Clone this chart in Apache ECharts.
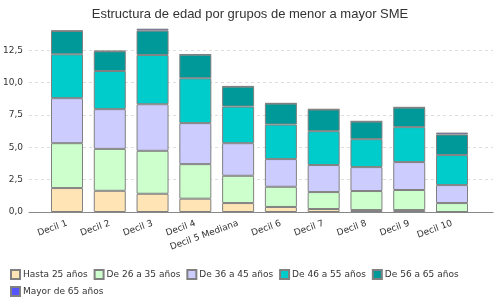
<!DOCTYPE html>
<html>
<head>
<meta charset="utf-8">
<script src="https://cdn.jsdelivr.net/npm/echarts@6/dist/echarts.min.js"></script>
<style>
  html, body { margin: 0; padding: 0; background: #fff; }
  #chart { width: 500px; height: 300px; }
</style>
</head>
<body>
<div id="chart"></div>
<script>
const categories = ['Decil 1', 'Decil 2', 'Decil 3', 'Decil 4', 'Decil 5 Mediana', 'Decil 6', 'Decil 7', 'Decil 8', 'Decil 9', 'Decil 10']
const seriesNames = ['Hasta 25 años', 'De 26 a 35 años', 'De 36 a 45 años', 'De 46 a 55 años', 'De 56 a 65 años', 'Mayor de 65 años']
const hasta25 = [1.85, 1.64, 1.41, 1.03, 0.69, 0.39, 0.23, 0.15, 0.15, 0.0]
const de26a35 = [3.47, 3.24, 3.32, 2.67, 2.11, 1.56, 1.31, 1.47, 1.55, 0.69]
const de36a45 = [3.48, 3.07, 3.60, 3.17, 2.52, 2.14, 2.09, 1.85, 2.16, 1.39]
const de46a55 = [3.39, 2.95, 3.81, 3.47, 2.83, 2.67, 2.62, 2.16, 2.70, 2.32]
const de56a65 = [1.80, 1.52, 1.88, 1.82, 1.54, 1.62, 1.67, 1.36, 1.51, 1.59]
const mayor65 = [0.03, 0.03, 0.15, 0.03, 0.03, 0.03, 0.03, 0.03, 0.03, 0.15]
const colors = ['#FFE4B5', '#CCFFCC', '#CCCCFF', '#00CCCC', '#009999', '#5555FF']

const font = 'DejaVu Sans'
const yMax = 14.3

const chart = echarts.init(document.getElementById('chart'), null, { renderer: 'canvas' })

const values = [hasta25, de26a35, de36a45, de46a55, de56a65, mayor65]

chart.setOption({
  animation: false,
  backgroundColor: '#fff',
  title: {
    text: 'Estructura de edad por grupos de menor a mayor SME',
    left: 'center',
    top: 3,
    textStyle: { fontFamily: 'Liberation Sans', fontSize: 13, fontWeight: 'normal', color: '#333' }
  },
  legend: {
    left: 5,
    top: 264,
    width: 480,
    itemWidth: 9,
    itemHeight: 9,
    itemGap: 6,
    icon: 'rect',
    textStyle: { fontFamily: font, fontSize: 9, color: '#333', padding: [0, 0, 0, -2] },
    data: seriesNames
  },
  grid: [
    { left: 26, right: 7, top: 27, bottom: 88 },
    { left: 45.6, right: 26.6, top: 27, bottom: 88 }
  ],
  xAxis: [
    {
      gridIndex: 0, type: 'value', min: 0, max: 1,
      axisLine: { show: true, lineStyle: { color: '#888', width: 1 } },
      axisTick: { show: false }, axisLabel: { show: false }, splitLine: { show: false }
    },
    {
      gridIndex: 1, type: 'category', data: categories,
      axisLine: { show: false }, axisTick: { show: false },
      axisLabel: { rotate: 20, margin: 11, interval: 0, fontFamily: font, fontSize: 9, color: '#333' }
    }
  ],
  yAxis: [
    {
      gridIndex: 0, type: 'value', min: 0, max: yMax, interval: 2.5,
      axisLine: { show: false }, axisTick: { show: false },
      axisLabel: {
        margin: 6, fontFamily: font, fontSize: 9, color: '#333',
        formatter: v => (Math.abs(v / 2.5 - Math.round(v / 2.5)) < 1e-6 ? v.toFixed(1).replace('.', ',') : '')
      },
      splitLine: {
        lineStyle: {
          type: [3, 3],
          color: ['#ddd', '#ddd', '#ddd', '#ddd', '#ddd', '#ddd', 'rgba(0,0,0,0)']
        }
      }
    },
    {
      gridIndex: 1, type: 'value', min: 0, max: yMax, show: false, splitLine: { show: false }
    }
  ],
  series: seriesNames.map((name, i) => ({
    name,
    type: 'bar',
    stack: 'total',
    xAxisIndex: 1,
    yAxisIndex: 1,
    barWidth: 32,
    data: values[i],
    itemStyle: { color: colors[i], borderColor: '#808080', borderWidth: 1 }
  }))
})
</script>
</body>
</html>
